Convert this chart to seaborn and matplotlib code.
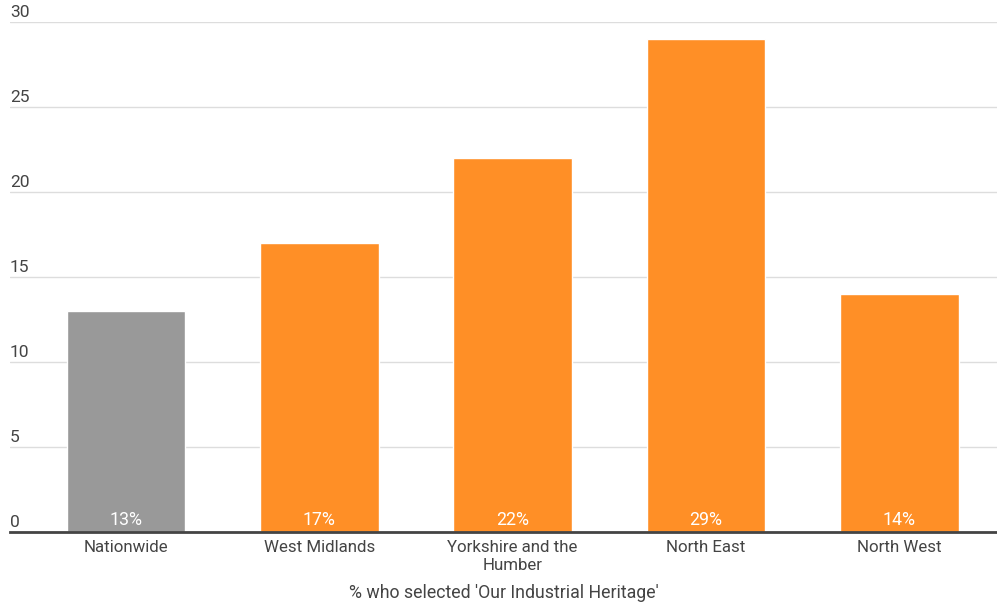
import matplotlib
matplotlib.use("Agg")
import matplotlib.pyplot as plt
import matplotlib.transforms as mtransforms
import seaborn as sns
import pandas as pd

regions = ["Nationwide", "West Midlands", "Yorkshire and the\nHumber", "North East", "North West"]
percent = [13, 17, 22, 29, 14]
bar_colors = ["#999999", "#FF8F26", "#FF8F26", "#FF8F26", "#FF8F26"]
y_ticks = [0, 5, 10, 15, 20, 25, 30]
x_title = "% who selected 'Our Industrial Heritage'"

sns.set_theme(style="white")
plt.rcParams["font.family"] = ["Roboto", "DejaVu Sans"]

df = pd.DataFrame({"region": regions, "percent": percent})

fig = plt.figure(figsize=(9.97, 6.05), dpi=100)
ax = fig.add_axes([10 / 997, 73 / 605, 987 / 997, 510 / 605])

sns.barplot(data=df, x="region", y="percent", hue="region", palette=bar_colors,
            width=0.615, legend=False, ax=ax, saturation=1)

ax.set_ylim(0, 30)
ax.set_xlim(-0.60, 4.505)

# light horizontal gridlines with labels sitting above them on the left
ax.set_yticks(y_ticks)
ax.set_yticklabels([])
ax.tick_params(axis="y", length=0)
ax.yaxis.grid(True, color="#dddddd", linewidth=1)
ax.set_axisbelow(True)
trans = mtransforms.blended_transform_factory(ax.transAxes, ax.transData)
for t in y_ticks:
    ax.text(0.0, t + 0.12, str(t), transform=trans, ha="left", va="bottom",
            fontsize=12.5, color="#444444")

for s in ["top", "right", "left"]:
    ax.spines[s].set_visible(False)
ax.spines["bottom"].set_color("#444444")
ax.spines["bottom"].set_linewidth(2)

ax.tick_params(axis="x", length=0, pad=6, labelsize=12.2, labelcolor="#444444")
for lbl in ax.get_xticklabels():
    lbl.set_linespacing(1.25)
ax.set_xlabel(x_title, fontsize=12.8, color="#444444", labelpad=8)
ax.set_ylabel("")

# value labels inside each bar, near its base
for i, v in enumerate(percent):
    ax.text(i, 0.15, f"{v}%", ha="center", va="bottom", color="white", fontsize=12.8)

fig.savefig("out.png", dpi=100)
